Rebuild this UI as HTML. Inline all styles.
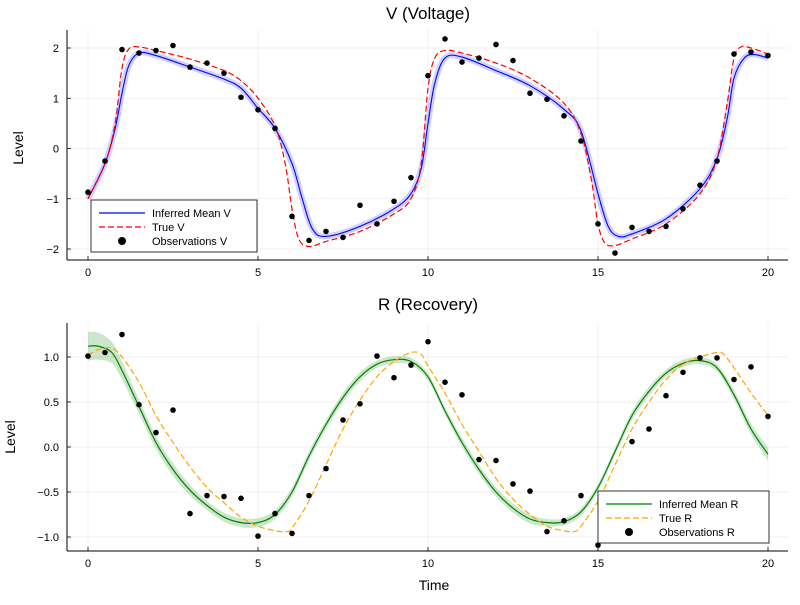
<!DOCTYPE html>
<html><head><meta charset="utf-8"><style>
body{margin:0;background:#fff;}
svg text{font-family:"Liberation Sans","DejaVu Sans",sans-serif;fill:#000;}
</style></head><body>
<svg id="chart" width="800" height="600" xmlns="http://www.w3.org/2000/svg"></svg>
<script>
// ---- data ----
const obsT = [0,0.5,1,1.5,2,2.5,3,3.5,4,4.5,5,5.5,6,6.5,7,7.5,8,8.5,9,9.5,10,10.5,11,11.5,12,12.5,13,13.5,14,14.5,15,15.5,16,16.5,17,17.5,18,18.5,19,19.5,20];
const obsV = [-0.87,-0.25,1.97,1.9,1.95,2.05,1.62,1.7,1.5,1.02,0.77,0.4,-1.35,-1.83,-1.65,-1.77,-1.13,-1.5,-1.05,-0.58,1.45,2.18,1.72,1.8,2.07,1.75,1.1,0.98,0.65,0.15,-1.5,-2.08,-1.57,-1.65,-1.55,-1.2,-0.73,-0.25,1.88,1.92,1.85];
const obsR = [1.01,1.05,1.25,0.47,0.16,0.41,-0.74,-0.54,-0.55,-0.57,-0.99,-0.74,-0.96,-0.54,-0.24,0.30,0.48,1.01,0.77,0.91,1.17,0.72,0.58,-0.14,-0.15,-0.41,-0.49,-0.94,-0.82,-0.54,-1.09,-0.6,0.06,0.20,0.57,0.83,0.99,0.99,0.75,0.89,0.34];
const meanVT = [0,0.5,0.8,1.0,1.2,1.5,2,3,4,4.5,5,5.5,6,6.3,6.6,7,8,9,9.5,9.8,10,10.2,10.5,11,12,13,14,14.5,15,15.3,15.6,16,17,18,18.5,18.8,19,19.3,19.6,20];
const meanV = [-1.0,-0.3,0.4,1.1,1.65,1.9,1.85,1.62,1.38,1.2,0.8,0.4,-0.3,-1.0,-1.6,-1.75,-1.55,-1.2,-0.9,-0.4,0.5,1.3,1.8,1.82,1.55,1.25,0.78,0.35,-0.9,-1.55,-1.75,-1.7,-1.4,-0.8,-0.2,0.6,1.4,1.8,1.87,1.8];
const trueVT = [0,0.5,0.8,1.0,1.2,1.5,2,3,4,4.5,5,5.5,5.8,6.0,6.2,6.5,7,8,9,9.5,9.8,10,10.2,10.5,11,12,13,14,14.5,14.8,15.0,15.2,15.5,16,17,18,18.5,18.8,19.0,19.2,19.5,20];
const trueV = [-1.0,-0.3,0.5,1.6,1.98,2.02,1.95,1.78,1.55,1.35,1.0,0.45,-0.3,-1.2,-1.8,-1.95,-1.85,-1.65,-1.3,-1.0,-0.3,1.2,1.8,1.95,1.9,1.7,1.4,0.9,0.3,-0.6,-1.5,-1.88,-1.93,-1.8,-1.5,-0.9,-0.2,0.9,1.8,2.02,2.0,1.88];
const meanRT = [0,0.3,0.7,1.0,1.5,2,2.5,3,3.5,4,4.5,5,5.5,6,6.5,7,7.5,8,8.5,9,9.5,10,10.5,11,11.5,12,12.5,13,13.5,14,14.5,15,15.5,16,16.5,17,17.5,18,18.5,19,19.5,20];
const meanR = [1.12,1.12,1.05,0.85,0.45,0.05,-0.25,-0.48,-0.65,-0.78,-0.84,-0.84,-0.75,-0.5,-0.1,0.25,0.55,0.78,0.92,0.97,0.95,0.78,0.4,0.05,-0.25,-0.5,-0.68,-0.8,-0.84,-0.83,-0.72,-0.45,-0.05,0.35,0.62,0.82,0.93,0.96,0.88,0.58,0.2,-0.08];
const sdR = [0.16,0.15,0.12,0.1,0.08,0.07,0.07,0.06,0.05,0.05,0.05,0.05,0.05,0.05,0.05,0.05,0.05,0.05,0.04,0.04,0.04,0.04,0.04,0.05,0.05,0.05,0.05,0.05,0.04,0.04,0.04,0.04,0.04,0.05,0.05,0.04,0.04,0.04,0.04,0.05,0.06,0.07];
const trueRT = [0,0.3,0.7,1.0,1.5,2,2.5,3,3.5,4,4.5,5,5.5,5.8,6,6.5,7,7.5,8,8.5,9,9.5,9.8,10,10.5,11,11.5,12,12.5,13,13.5,14,14.3,14.5,15,15.5,16,16.5,17,17.5,18,18.5,18.7,19,19.5,20];
const trueR = [1.02,1.08,1.1,1.0,0.72,0.35,0.05,-0.22,-0.45,-0.62,-0.78,-0.88,-0.93,-0.94,-0.9,-0.6,-0.2,0.2,0.52,0.78,0.95,1.05,1.03,0.9,0.6,0.25,-0.05,-0.35,-0.58,-0.75,-0.88,-0.93,-0.94,-0.88,-0.6,-0.2,0.2,0.5,0.75,0.92,1.0,1.05,1.03,0.88,0.6,0.35];
const xTicks = [0,5,10,15,20];
const yTicksV = [-2,-1,0,1,2];
const yTicksR = [-1.0,-0.5,0.0,0.5,1.0];

const NS="http://www.w3.org/2000/svg";
const svg=document.getElementById('chart');
function el(tag,attrs,parent){const e=document.createElementNS(NS,tag);for(const k in attrs)e.setAttribute(k,attrs[k]);(parent||svg).appendChild(e);return e;}
const L=67,R=788;
const xs=t=>88+t*34;
const yV=v=>148.5-v*50.25;
const yR=v=>447-v*90;

function smoothPath(pts){
  let d=`M${pts[0][0]},${pts[0][1]}`;
  for(let i=0;i<pts.length-1;i++){
    const p0=pts[Math.max(0,i-1)],p1=pts[i],p2=pts[i+1],p3=pts[Math.min(pts.length-1,i+2)];
    const c1x=p1[0]+(p2[0]-p0[0])/6,c1y=p1[1]+(p2[1]-p0[1])/6;
    const c2x=p2[0]-(p3[0]-p1[0])/6,c2y=p2[1]-(p3[1]-p1[1])/6;
    d+=` C${c1x},${c1y} ${c2x},${c2y} ${p2[0]},${p2[1]}`;
  }
  return d;
}
function frame(top,bottom,ys,yTicks,fmt,name){
  const g=el('g',{});
  
  
  xTicks.forEach(t=>{el('line',{x1:xs(t),x2:xs(t),y1:top,y2:bottom,stroke:'#000','stroke-opacity':0.1,'stroke-width':0.6},g);
    el('line',{x1:xs(t),x2:xs(t),y1:bottom,y2:bottom-4,stroke:'#000','stroke-width':0.8},g);
    const tx=el('text',{x:xs(t),y:bottom+16,'text-anchor':'middle','font-size':11},g);tx.textContent=t;
    });
  yTicks.forEach(v=>{el('line',{x1:L,x2:R,y1:ys(v),y2:ys(v),stroke:'#000','stroke-opacity':0.1,'stroke-width':0.6},g);
    el('line',{x1:L,x2:L+4,y1:ys(v),y2:ys(v),stroke:'#000','stroke-width':0.8},g);
    const tx=el('text',{x:L-8,y:ys(v)+4,'text-anchor':'end','font-size':11},g);tx.textContent=fmt(v);
    });
  el('line',{x1:L,x2:L,y1:top,y2:bottom,stroke:'#000','stroke-width':1},g);
  el('line',{x1:L,x2:R,y1:bottom,y2:bottom,stroke:'#000','stroke-width':1},g);
}
const neg=s=>s.replace('-','\u2212');
frame(30,260,yV,yTicksV,v=>neg(String(v)),'voltage');
frame(323,551,yR,yTicksR,v=>neg(v.toFixed(1)),'recovery');

function txt(x,y,s,size,name,extra){const t=el('text',Object.assign({x:x,y:y,'font-size':size},extra||{}));t.textContent=s;
  return t;}
txt(428,19,'V (Voltage)',17,'voltage-title',{'text-anchor':'middle'});
txt(428,310,'R (Recovery)',17,'recovery-title',{'text-anchor':'middle'});
txt(23,148,'Level',14,'voltage-y-axis-title',{'text-anchor':'middle',transform:'rotate(-90 23 148)'});
txt(15,437,'Level',14,'recovery-y-axis-title',{'text-anchor':'middle',transform:'rotate(-90 15 437)'});
txt(434,590,'Time',14,'x-axis-title',{'text-anchor':'middle'});

// V series
const vBand=el('path',{d:smoothPath(meanVT.map((t,i)=>[xs(t),yV(meanV[i])])),fill:'none',stroke:'#0000ff','stroke-opacity':0.18,'stroke-width':6,'stroke-linejoin':'round'});

const vMean=el('path',{d:smoothPath(meanVT.map((t,i)=>[xs(t),yV(meanV[i])])),fill:'none',stroke:'#0000ff','stroke-width':1.1});

const vTrue=el('path',{d:smoothPath(trueVT.map((t,i)=>[xs(t),yV(trueV[i])])),fill:'none',stroke:'#ff0000','stroke-width':1.2,'stroke-dasharray':'6 3'});

obsT.forEach((t,i)=>{const c=el('circle',{cx:xs(t),cy:yV(obsV[i]),r:2.8,fill:'#000'});
  });

// R series
const up=meanRT.map((t,i)=>[xs(t),yR(meanR[i]+sdR[i])]);
const lo=meanRT.map((t,i)=>[xs(t),yR(meanR[i]-sdR[i])]).reverse();
const rBand=el('path',{d:smoothPath(up)+' L'+smoothPath(lo).slice(1)+' Z',fill:'#008000','fill-opacity':0.2,stroke:'none'});

const rMean=el('path',{d:smoothPath(meanRT.map((t,i)=>[xs(t),yR(meanR[i])])),fill:'none',stroke:'#008000','stroke-width':1.2});

const rTrue=el('path',{d:smoothPath(trueRT.map((t,i)=>[xs(t),yR(trueR[i])])),fill:'none',stroke:'#ffa500','stroke-width':1.2,'stroke-dasharray':'6 3'});

obsT.forEach((t,i)=>{const c=el('circle',{cx:xs(t),cy:yR(obsR[i]),r:2.8,fill:'#000'});
  });

function legend(x,y,w,items,name){
  const g=el('g',{});
  
  el('rect',{x:x,y:y,width:w,height:52,fill:'#fff',stroke:'#000','stroke-width':0.8},g);
  items.forEach((it,i)=>{const yy=y+13+i*14;
    if(it.dot) el('circle',{cx:x+31,cy:yy,r:4,fill:'#000'},g);
    else el('line',{x1:x+8,x2:x+54,y1:yy,y2:yy,stroke:it.c,'stroke-width':1.3,'stroke-dasharray':it.dash||'none'},g);
    const t=el('text',{x:x+61,y:yy+4,'font-size':11},g);t.textContent=it.s;
    });
}
legend(91,200,166,[{c:'#0000ff',s:'Inferred Mean V'},{c:'#ff0000',dash:'6 3',s:'True V'},{dot:1,s:'Observations V'}],'voltage-legend');
legend(598,491,171,[{c:'#008000',s:'Inferred Mean R'},{c:'#ffa500',dash:'6 3',s:'True R'},{dot:1,s:'Observations R'}],'recovery-legend');
</script>
</body></html>
